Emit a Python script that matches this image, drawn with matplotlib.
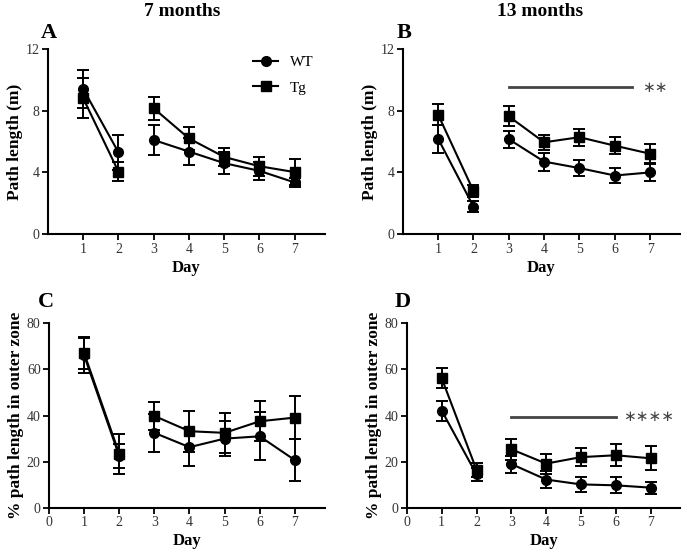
import matplotlib
matplotlib.use("Agg")
import matplotlib.pyplot as plt
import numpy as np
from matplotlib.lines import Line2D

plt.rcParams['font.family'] = ['Liberation Serif', 'DejaVu Serif']

days = [1, 2, 3, 4, 5, 6, 7]

# Panel A: 7 months path length (m)
a_wt = [9.4, 5.3, 6.1, 5.35, 4.6, 4.1, 3.35]
a_wt_err = [1.2, 1.15, 0.95, 0.9, 0.7, 0.6, 0.32]
a_tg = [8.8, 4.05, 8.15, 6.2, 5.0, 4.4, 4.02]
a_tg_err = [1.3, 0.6, 0.76, 0.73, 0.6, 0.6, 0.84]

# Panel B: 13 months path length (m)
b_wt = [6.18, 1.79, 6.15, 4.7, 4.28, 3.8, 4.0]
b_wt_err = [0.9, 0.35, 0.54, 0.58, 0.54, 0.5, 0.58]
b_tg = [7.74, 2.8, 7.63, 5.95, 6.28, 5.73, 5.21]
b_tg_err = [0.67, 0.37, 0.65, 0.5, 0.56, 0.56, 0.65]

# Panel C: 7 months % path length in outer zone
c_wt = [66.0, 22.5, 32.5, 26.3, 30.0, 31.0, 20.7]
c_wt_err = [7.5, 5.0, 8.2, 8.3, 7.7, 10.4, 9.0]
c_tg = [67.0, 23.5, 39.8, 33.2, 32.5, 37.5, 39.1]
c_tg_err = [6.8, 8.6, 6.2, 8.8, 8.7, 8.7, 9.4]

# Panel D: 13 months % path length in outer zone
d_wt = [42.1, 14.5, 19.0, 12.3, 10.2, 9.8, 8.8]
d_wt_err = [4.3, 3.0, 3.7, 3.5, 3.3, 3.5, 2.6]
d_tg = [56.1, 16.5, 25.4, 19.2, 22.0, 22.8, 21.5]
d_tg_err = [4.4, 3.0, 4.6, 4.3, 3.9, 4.8, 5.1]

fig = plt.figure(figsize=(6.85, 5.55), dpi=100)

positions = {
    'A': [0.070, 0.578, 0.404, 0.334],
    'B': [0.588, 0.578, 0.405, 0.334],
    'C': [0.0715, 0.0847, 0.4025, 0.3333],
    'D': [0.594, 0.0847, 0.399, 0.3333],
}

segments = [slice(0, 2), slice(2, 7)]


def draw(ax, wt, wte, tg, tge):
    x = np.array(days)
    for seg in segments:
        for y, e, m in ((wt, wte, 'o'), (tg, tge, 's')):
            yy = np.array(y)[seg]
            ee = np.array(e)[seg]
            ax.errorbar(x[seg], yy, yerr=ee, color='black', marker=m,
                        markersize=7, linewidth=1.5, elinewidth=1.4,
                        capsize=4, capthick=1.4)


def style(ax, ymax, yticks, show0):
    ax.spines['top'].set_visible(False)
    ax.spines['right'].set_visible(False)
    ax.spines['left'].set_linewidth(1.5)
    ax.spines['bottom'].set_linewidth(1.5)
    ax.set_xlim(0, 7.85)
    ax.set_ylim(0, ymax)
    ax.set_yticks(yticks)
    if show0:
        ax.set_xticks([0] + days)
    else:
        ax.set_xticks(days)
    ax.tick_params(axis='both', direction='out', length=4, width=1.3,
                   labelsize=10, labelcolor='#333333', pad=2)
    ax.set_xlabel('Day', fontsize=12, fontweight='bold', labelpad=3)


axA = fig.add_axes(positions['A'])
draw(axA, a_wt, a_wt_err, a_tg, a_tg_err)
style(axA, 12, [0, 4, 8, 12], False)
axA.set_ylabel('Path length (m)', fontsize=12.5, fontweight='bold', labelpad=2)
handles = [Line2D([], [], color='black', marker='o', markersize=7, lw=1.5),
           Line2D([], [], color='black', marker='s', markersize=7, lw=1.5)]
axA.legend(handles, ['WT', 'Tg'], loc='upper right', frameon=False,
           fontsize=11, handlelength=1.6, bbox_to_anchor=(1.01, 1.04),
           labelspacing=0.8)

axB = fig.add_axes(positions['B'])
draw(axB, b_wt, b_wt_err, b_tg, b_tg_err)
style(axB, 12, [0, 4, 8, 12], False)
axB.set_ylabel('Path length (m)', fontsize=12.5, fontweight='bold', labelpad=2)
axB.plot([3, 6.5], [9.5, 9.5], color='#444444', linewidth=2)
axB.text(7.12, 9.5, '\u2217\u2217', fontsize=11, ha='center', va='center',
         color='#444444', family=['DejaVu Sans'])

axC = fig.add_axes(positions['C'])
draw(axC, c_wt, c_wt_err, c_tg, c_tg_err)
style(axC, 80, [0, 20, 40, 60, 80], True)
axC.set_ylabel('% path length in outer zone', fontsize=12.5, fontweight='bold', labelpad=2)

axD = fig.add_axes(positions['D'])
draw(axD, d_wt, d_wt_err, d_tg, d_tg_err)
style(axD, 80, [0, 20, 40, 60, 80], True)
axD.set_ylabel('% path length in outer zone', fontsize=12.5, fontweight='bold', labelpad=2)
axD.plot([3, 6], [39.5, 39.5], color='#444444', linewidth=2)
axD.text(6.93, 39.5, '\u2217\u2217\u2217\u2217', fontsize=11, ha='center', va='center',
         color='#444444', family=['DejaVu Sans'])

fig.text(182 / 685, 1 - 12 / 555, '7 months', fontsize=14, fontweight='bold', ha='center', va='center')
fig.text(540 / 685, 1 - 12 / 555, '13 months', fontsize=14, fontweight='bold', ha='center', va='center')
for lab, (px, py) in {'A': (49, 33), 'B': (404, 33), 'C': (46, 302), 'D': (403, 302)}.items():
    fig.text(px / 685, 1 - py / 555, lab, fontsize=16, fontweight='bold', ha='center', va='center')

fig.savefig('out.png', dpi=100)
